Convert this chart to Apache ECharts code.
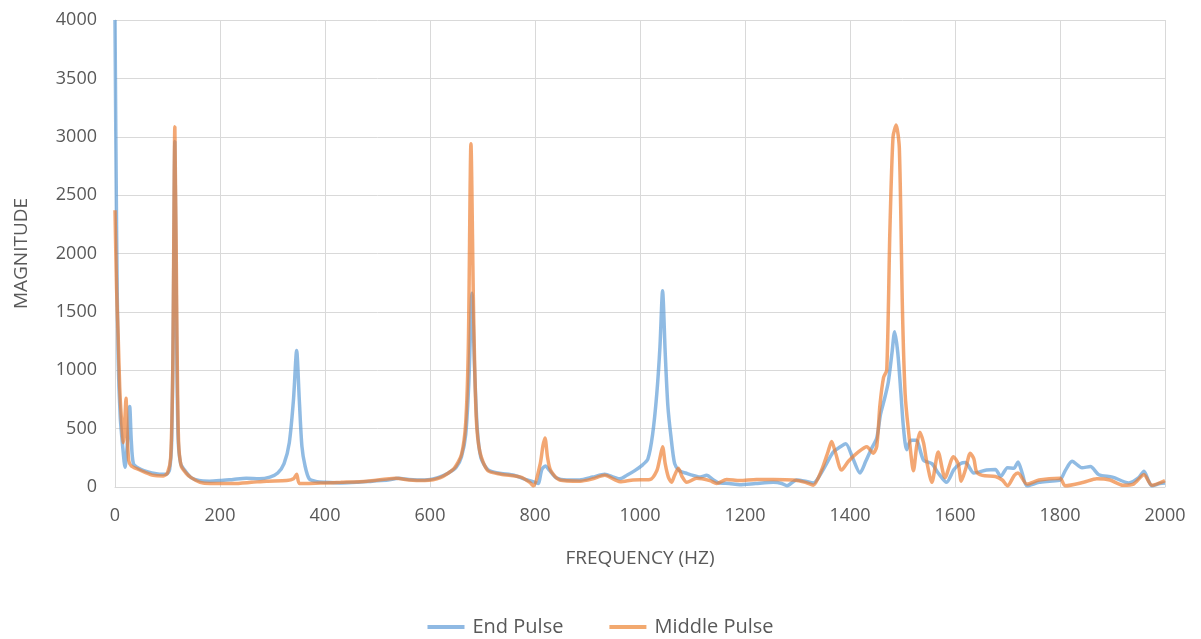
<!DOCTYPE html>
<html>
<head>
<meta charset="utf-8">
<script src="https://cdn.jsdelivr.net/npm/echarts@6/dist/echarts.min.js"></script>
<style>
html,body{margin:0;padding:0;background:#fff;}
#chart{width:1201px;height:639px;}
</style>
</head>
<body>
<div id="chart"></div>
<script>
const seriesNames = ["End Pulse", "Middle Pulse"];
const xTicks = [0,200,400,600,800,1000,1200,1400,1600,1800,2000];
const yTicks = [0,500,1000,1500,2000,2500,3000,3500,4000];

const endFreq = [0,3,6,10,15,19,24,28,31,35,45,55,70,85,98,104,108,111,114,117,120,125,135,145,160,180,200,225,250,275,295,310,322,332,340,346,351,356,362,370,385,400,430,460,490,520,540,560,590,615,635,650,660,668,674,680,685,690,697,710,730,760,785,800,806,813,820,828,840,860,885,910,933,950,962,975,990,1005,1015,1024,1032,1038,1043,1048,1053,1059,1066,1075,1090,1105,1115,1127,1140,1150,1170,1190,1220,1254,1270,1280,1298,1315,1330,1349,1368,1380,1392,1405,1419,1430,1440,1451,1458,1466,1473,1480,1485,1491,1497,1502,1508,1516,1526,1540,1556,1568,1584,1598,1610,1620,1636,1660,1677,1687,1700,1712,1720,1728,1737,1760,1780,1800,1810,1823,1842,1858,1874,1900,1931,1950,1960,1968,1975,1990,2000];
const endMag = [4000,2200,1100,600,330,170,400,690,400,200,160,140,120,110,110,150,400,1400,2960,1500,450,200,130,80,55,50,55,65,75,70,85,120,200,380,750,1170,750,350,180,70,45,40,35,40,50,60,75,65,60,80,120,170,260,450,900,1660,1000,500,250,150,120,100,60,40,30,150,180,140,80,60,60,85,110,85,70,100,140,190,240,450,800,1200,1680,1150,700,430,200,140,115,95,85,100,60,35,30,20,30,40,30,10,60,50,35,150,300,340,370,250,120,220,320,420,620,760,900,1150,1330,1150,800,500,320,400,400,230,200,120,40,150,200,210,120,145,150,90,165,160,215,120,10,40,50,60,140,220,165,175,105,85,35,80,135,60,10,30,35];

const midFreq = [0,3,6,9,12,16,19,21,23,26,31,45,55,73,92,100,106,110,114,118,121,126,135,145,162,181,225,260,289,327,340,346,351,365,400,430,480,535,560,590,620,646,660,668,673,678,683,688,695,710,735,773,790,797,810,815,819,824,830,847,886,910,933,962,987,1019,1032,1038,1043,1048,1054,1060,1066,1073,1080,1089,1108,1133,1146,1165,1190,1222,1254,1292,1315,1330,1346,1358,1365,1372,1384,1397,1416,1432,1444,1451,1457,1464,1470,1476,1482,1488,1494,1500,1505,1511,1521,1527,1533,1540,1546,1556,1568,1581,1597,1606,1612,1620,1629,1636,1641,1652,1677,1690,1700,1713,1720,1737,1760,1800,1810,1845,1870,1895,1920,1940,1960,1975,2000];
const midMag = [2370,1700,1300,850,600,380,600,760,500,230,180,150,130,100,95,120,250,1000,3085,1300,400,180,120,80,40,30,30,40,50,55,70,110,30,30,35,40,50,75,60,55,80,160,280,550,1200,2940,1500,600,300,140,110,85,40,10,200,350,420,250,140,60,50,70,100,45,60,65,140,250,345,200,85,40,100,160,90,40,75,55,30,65,55,65,65,60,40,15,145,300,390,300,145,220,300,345,290,350,700,940,1000,2200,3000,3100,2900,1500,800,500,140,350,470,380,220,40,300,80,260,200,50,150,290,240,130,100,90,60,10,100,120,25,60,75,10,40,70,60,15,25,105,15,55];

function pairs(xs, ys){ return xs.map((x,i)=>[x, ys[i]]); }

const chart = echarts.init(document.getElementById('chart'), null, {renderer:'canvas'});
const font = "'Open Sans', 'Liberation Sans', sans-serif";
chart.setOption({
  animation:false,
  backgroundColor:'#ffffff',
  grid:{left:115, right:36, top:20, bottom:152, containLabel:false},
  legend:{
    data:seriesNames, top:612, left:'center', icon:'rect', itemWidth:37, itemHeight:4, itemGap:46,
    textStyle:{color:'#595959', fontSize:20, fontFamily:font, padding:[0,0,0,3]}
  },
  xAxis:{
    type:'value', min:xTicks[0], max:xTicks[xTicks.length-1], interval:200,
    name:'FREQUENCY (HZ)', nameLocation:'middle', nameGap:62,
    nameTextStyle:{color:'#595959', fontSize:19, fontFamily:font},
    axisLine:{show:true, lineStyle:{color:'#d9d9d9', width:1}},
    axisTick:{show:false},
    axisLabel:{color:'#595959', fontSize:18, fontFamily:font, margin:20, formatter:(v)=>String(v)},
    splitLine:{show:true, lineStyle:{color:'#d9d9d9', width:1}}
  },
  yAxis:{
    type:'value', min:yTicks[0], max:yTicks[yTicks.length-1], interval:500,
    name:'MAGNITUDE', nameLocation:'middle', nameGap:84, nameRotate:90,
    nameTextStyle:{color:'#595959', fontSize:19, fontFamily:font},
    axisLine:{show:true, lineStyle:{color:'#d9d9d9', width:1}},
    axisTick:{show:false},
    axisLabel:{color:'#595959', fontSize:18, fontFamily:font, margin:18, formatter:(v)=>String(v)},
    splitLine:{show:true, lineStyle:{color:'#d9d9d9', width:1}}
  },
  series:[
    {name:seriesNames[0], type:'line', data:pairs(endFreq,endMag), symbol:'none', smooth:0.25,
     lineStyle:{color:'#5B9BD5', width:3.5, opacity:0.68}, itemStyle:{color:'#8fb9e3'}},
    {name:seriesNames[1], type:'line', data:pairs(midFreq,midMag), symbol:'none', smooth:0.25,
     lineStyle:{color:'#ED7D31', width:3.5, opacity:0.68}, itemStyle:{color:'#f2a96f'}}
  ]
});
</script>
</body>
</html>
